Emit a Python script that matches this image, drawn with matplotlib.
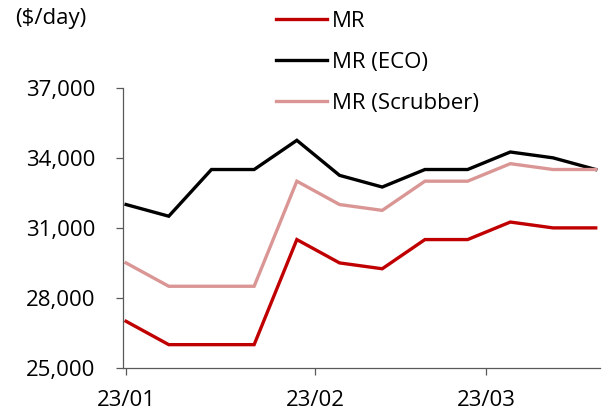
import numpy as np
import pandas as pd
import matplotlib
matplotlib.use("Agg")
import matplotlib.pyplot as plt
import matplotlib.dates as mdates

plt.rcParams['font.family'] = ['Open Sans', 'DejaVu Sans']

dates = pd.date_range("2023-01-01", periods=12, freq="7D")
mr = [27000, 26000, 26000, 26000, 30500, 29500, 29250, 30500, 30500, 31250, 31000, 31000]
mr_eco = [32000, 31500, 33500, 33500, 34750, 33250, 32750, 33500, 33500, 34250, 34000, 33500]
mr_scrub = [29500, 28500, 28500, 28500, 33000, 32000, 31750, 33000, 33000, 33750, 33500, 33500]
labels = ["MR", "MR (ECO)", "MR (Scrubber)"]
colors = ["#C00000", "#000000", "#D99694"]
xticks = pd.to_datetime(["2023-01-01", "2023-02-01", "2023-03-01"])
yticks = [25000, 28000, 31000, 34000, 37000]

fs = 16
fig = plt.figure(figsize=(6.03, 4.17), dpi=100)
ax = fig.add_axes([0.204, 0.1175, 0.791, 0.672])

for ys, lab, c in zip([mr, mr_eco, mr_scrub], labels, colors):
    ax.plot(dates, ys, color=c, lw=2.4, label=lab, solid_joinstyle="miter")

ax.set_ylim(25000, 37000)
ax.set_yticks(yticks)
ax.set_yticklabels([f"{v:,}" for v in yticks])
ax.set_xlim(dates[0] - pd.Timedelta(days=0.5), dates[-1] + pd.Timedelta(days=0.7))
ax.set_xticks(xticks)
ax.set_xticklabels([d.strftime("%y/%m") for d in xticks])

for s in ["top", "right"]:
    ax.spines[s].set_visible(False)
for s in ["left", "bottom"]:
    ax.spines[s].set_color("#595959")
    ax.spines[s].set_linewidth(0.9)
ax.tick_params(axis="both", direction="out", length=5, width=0.9, color="#595959",
               labelsize=fs, labelcolor="#000000")
ax.tick_params(axis="y", pad=15)
ax.tick_params(axis="x", pad=11)

fig.text(0.025, 0.955, "($/day)", fontsize=fs, va="center", ha="left")
fig.legend(loc="upper left", bbox_to_anchor=(0.443, 0.996), frameon=False,
           fontsize=fs, handlelength=2.3, handletextpad=0.2, labelspacing=0.9,
           borderaxespad=0.0)

fig.savefig("out.png", dpi=100)
